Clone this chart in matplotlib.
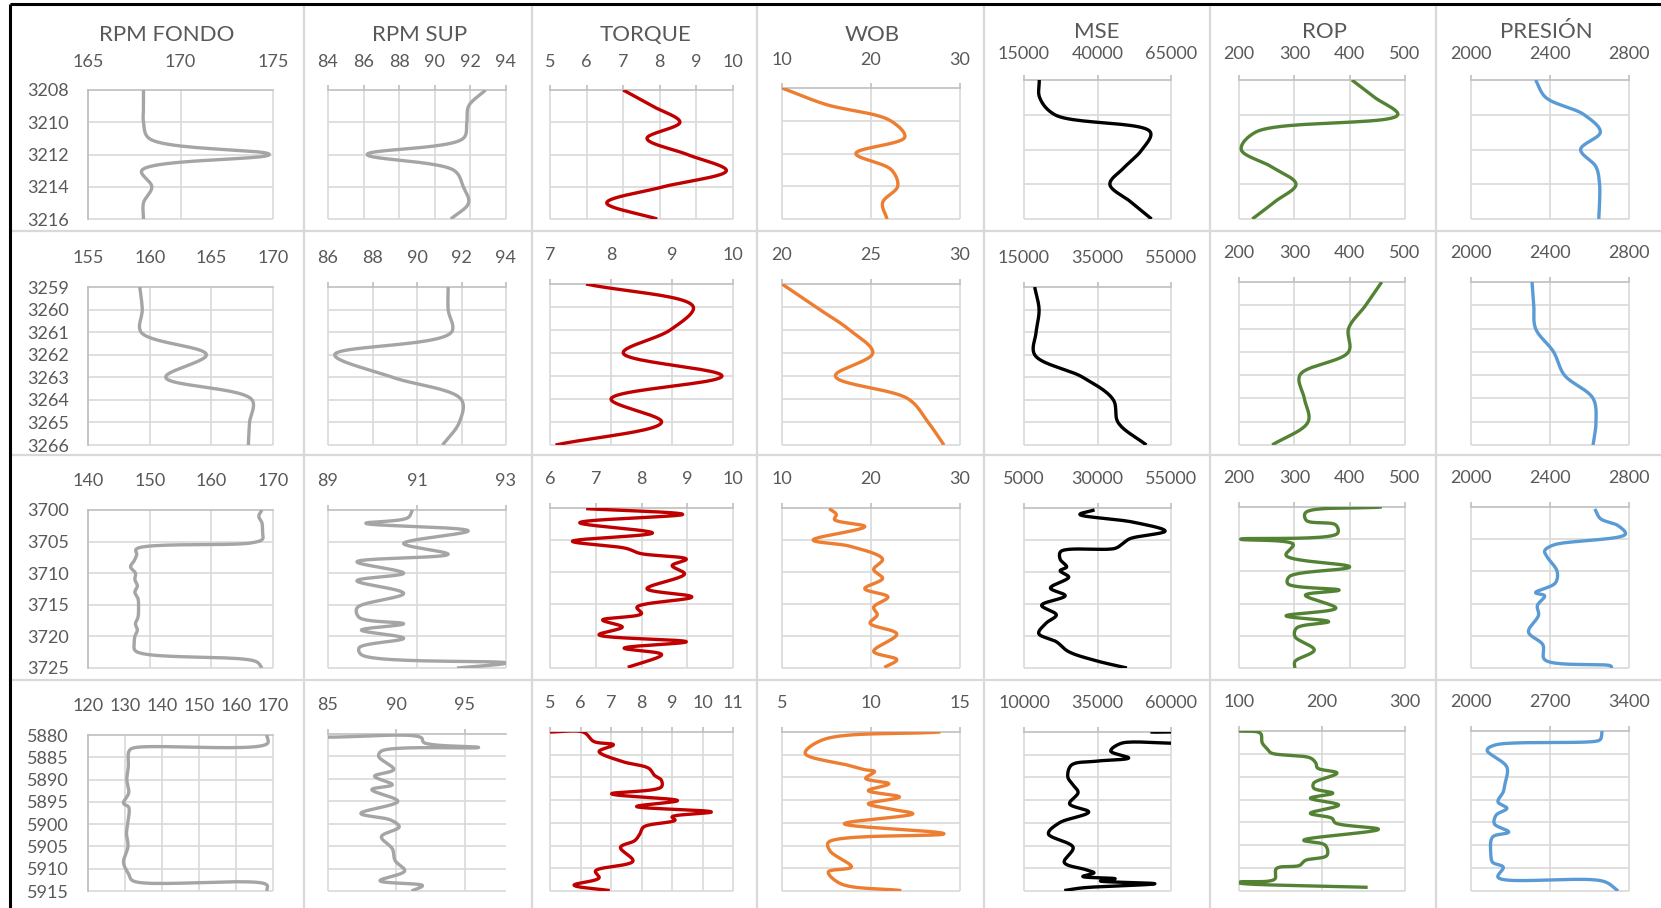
import numpy as np
import matplotlib
matplotlib.use("Agg")
import matplotlib.pyplot as plt
from matplotlib.lines import Line2D

W, H, DPI = 1661, 908, 100
plt.rcParams['font.family'] = ['Lato', 'DejaVu Sans']

TEXT = '#595959'
GRID = '#d9d9d9'
AXIS = '#bfbfbf'

# ---------------------------------------------------------------- data
TITLES = ["RPM FONDO", "RPM SUP", "TORQUE", "WOB", "MSE", "ROP", "PRESIÓN"]
COLORS = ['#a5a5a5', '#a5a5a5', '#c00000', '#ed7d31', '#000000', '#548235', '#5b9bd5']

# interval 3208-3216 m
MD_1 = [3208, 3209, 3210, 3211, 3212, 3213, 3214, 3215, 3216]
RPM_FONDO_1 = [168.0, 168.0, 168.0, 168.3, 174.8, 167.9, 168.45, 168.0, 168.0]
RPM_SUP_1 = [92.85, 91.9, 91.8, 91.6, 86.2, 91.1, 91.6, 91.9, 90.9]
TORQUE_1 = [7.0, 7.8, 8.55, 7.65, 8.75, 9.82, 8.1, 6.55, 7.93]
WOB_1 = [10.0, 14.9, 22.2, 23.8, 18.3, 22.3, 23.0, 21.3, 21.8]
MSE_1 = [20200, 20300, 25500, 58000, 55200, 49300, 44200, 51200, 58400]
ROP_1 = [404, 445, 487, 230, 204, 259, 303, 265, 224]
PRESION_1 = [2327, 2378, 2573, 2655, 2555, 2633, 2651, 2651, 2647]

# interval 3259-3266 m
MD_2 = [3259, 3260, 3261, 3262, 3263, 3264, 3265, 3266]
RPM_FONDO_2 = [159.2, 159.4, 159.3, 164.6, 161.3, 168.3, 168.1, 168.0]
RPM_SUP_2 = [91.4, 91.4, 91.55, 86.3, 88.9, 92.0, 91.9, 91.15]
TORQUE_2 = [7.59, 9.35, 8.97, 8.2, 9.82, 8.0, 8.83, 7.09]
WOB_2 = [20.0, 21.9, 23.8, 25.1, 23.0, 27.1, 28.2, 29.1]
MSE_2 = [17900, 19100, 18300, 17900, 31000, 39300, 40600, 48300]
ROP_2 = [458, 429, 398, 398, 310, 318, 325, 260]
PRESION_2 = [2309, 2318, 2327, 2418, 2473, 2618, 2633, 2618]

# interval 3700-3725 m
RPM_FONDO_3_MD = [3700, 3701, 3702, 3703.5, 3704.6, 3705.2, 3706.2, 3707, 3708, 3709, 3710,
                  3711, 3712, 3713, 3714, 3715.5, 3717, 3718, 3719, 3720, 3721, 3722.3,
                  3724.0, 3725]
RPM_FONDO_3 = [168.2, 167.7, 168.2, 168.3, 168.3, 166.5, 147.8, 147.9, 147.5, 146.9, 147.7,
               147.6, 148.0, 147.6, 148.1, 148.2, 148.1, 147.7, 148.0, 147.6, 147.5, 147.7,
               167.3, 168.2]
RPM_SUP_3_MD = [3700, 3701.2, 3702.1, 3703.3, 3705.3, 3707, 3708.2, 3710, 3711.2, 3713.2,
                3715.5, 3717, 3718, 3719, 3720.3, 3721.8, 3722.9, 3724.2, 3725]
RPM_SUP_3 = [90.9, 90.8, 89.85, 92.15, 90.7, 91.7, 89.65, 90.7, 89.65, 90.7,
             89.65, 89.7, 90.7, 89.75, 90.7, 89.7, 89.75, 93.0, 91.9]
TORQUE_3_MD = [3700.1, 3701.0, 3702.3, 3703.9, 3705.2, 3706.3, 3707.1, 3708.0, 3709.0, 3710.3,
               3712.6, 3713.9, 3715.5, 3716.5, 3717.5, 3718.6, 3719.8, 3720.9, 3721.9, 3722.9,
               3724.9]
TORQUE_3 = [6.79, 8.9, 6.65, 8.24, 6.49, 7.66, 7.97, 8.98, 8.67, 8.94,
            8.12, 9.1, 7.9, 8.0, 7.15, 7.58, 7.07, 8.98, 7.62, 8.44,
            7.7]
WOB_3_MD = [3700.1, 3701.0, 3701.8, 3702.9, 3705.0, 3706.0, 3708.0, 3709.6, 3711.0, 3712.6,
            3713.9, 3715.5, 3716.7, 3718.0, 3719.7, 3722.4, 3723.7, 3724.9]
WOB_3 = [15.3, 16.1, 15.9, 19.3, 13.5, 17.7, 21.3, 20.3, 21.3, 19.3,
         21.9, 20.3, 20.7, 19.9, 22.9, 20.3, 22.9, 21.5]
MSE_3_MD = [3700.3, 3701.0, 3702.2, 3703.6, 3704.8, 3705.6, 3706.3, 3706.8, 3708.0, 3709.2,
            3709.8, 3710.8, 3712.5, 3713.7, 3715.2, 3716.7, 3718.0, 3719.6, 3720.9, 3722.4,
            3723.8, 3725.0]
MSE_3 = [29000, 24000, 42000, 53000, 41000, 38500, 36000, 17500, 17300, 19500,
         17300, 20200, 14000, 19000, 11000, 16000, 12500, 10000, 16000, 20000,
         29000, 40000]
ROP_3_MD = [3700.0, 3700.9, 3702.1, 3702.8, 3704.1, 3705.0, 3705.8, 3707.5, 3709.3, 3710.8,
            3711.9, 3712.9, 3713.7, 3715.7, 3716.9, 3717.8, 3718.8, 3720.1, 3722.2, 3724.0,
            3725.0]
ROP_3 = [458, 320, 322, 375, 378, 203, 298, 285, 400, 291,
         288, 381, 320, 375, 285, 362, 304, 301, 336, 301,
         301]
PRESION_3_MD = [3700.3, 3701.8, 3702.9, 3704.2, 3705.9, 3706.8, 3707.6, 3710.0, 3711.8, 3713.3,
                3713.8, 3715.3, 3716.8, 3719.4, 3721.4, 3723.7, 3724.7, 3725.0]
PRESION_3 = [2627, 2655, 2745, 2782, 2418, 2373, 2382, 2436, 2427, 2327,
             2373, 2336, 2342, 2291, 2364, 2373, 2709, 2712]

# interval 5880-5915 m
RPM_FONDO_4_MD = [5880, 5881.9, 5883.0, 5883.8, 5887, 5890, 5893, 5895.3, 5896.2, 5900,
                  5902, 5905, 5908.6, 5911.2, 5912.7, 5913.6, 5915]
RPM_FONDO_4 = [168.3, 168.5, 131.9, 131.0, 130.9, 130.5, 131.0, 129.6, 131.0, 130.7,
               130.4, 130.8, 129.6, 131.0, 132.1, 168.3, 168.3]
RPM_SUP_4_MD = [5880.7, 5880.8, 5881.9, 5883.0, 5883.8, 5885, 5887.9, 5889.4, 5891.3, 5892.4,
                5895.0, 5897.7, 5899.2, 5900.7, 5902.9, 5905.6, 5908.2, 5910.5, 5912.7, 5913.8,
                5915.0]
RPM_SUP_4 = [85.0, 91.8, 92.0, 96.0, 88.9, 88.7, 89.8, 88.4, 89.7, 88.2,
             90.1, 87.4, 89.6, 90.2, 88.9, 89.7, 89.9, 90.6, 88.8, 91.9,
             91.1]
TORQUE_4_MD = [5880.0, 5880.05, 5882.1, 5882.8, 5884.3, 5886.5, 5888.0, 5889.5, 5890.6, 5892.1,
               5893.6, 5895.1, 5896.4, 5897.6, 5898.7, 5899.4, 5900.9, 5902.4, 5903.9, 5905.4,
               5908.4, 5910.6, 5912.1, 5913.7, 5914.9]
TORQUE_4 = [5.0, 6.1, 6.44, 7.08, 6.61, 7.37, 8.24, 8.42, 8.65, 8.65,
            7.02, 9.18, 7.84, 10.29, 9.0, 9.1, 8.07, 7.95, 7.78, 7.31,
            7.72, 6.49, 6.61, 5.79, 6.96]
WOB_4_MD = [5880.0, 5881.7, 5884.7, 5887.3, 5888.3, 5888.7, 5890.2, 5891.4, 5892.9, 5894.3,
            5895.8, 5896.9, 5898.0, 5900.2, 5902.4, 5904.3, 5906.2, 5909.7, 5910.8, 5913.4,
            5914.9]
WOB_4 = [13.9, 7.3, 6.3, 8.7, 9.65, 10.2, 9.7, 11.0, 9.85, 11.6,
         9.85, 11.0, 12.35, 8.5, 14.1, 7.6, 7.7, 8.9, 7.6, 8.3,
         11.7]
MSE_4_MD = [5880.0, 5880.5, 5882.0, 5882.5, 5884.2, 5885.7, 5886.4, 5887.3, 5889.9, 5891.5,
            5893.3, 5895.8, 5897.6, 5900.0, 5902.4, 5905.4, 5908.7, 5910.3, 5911.0, 5911.8,
            5912.3, 5912.8, 5913.4, 5914.3, 5914.9]
MSE_4 = [53000, 66000, 66000, 43000, 39500, 45600, 35000, 26100, 24900, 26500,
         28400, 25500, 32000, 22000, 18300, 26700, 23700, 31000, 33800, 30000,
         41000, 36000, 54500, 30000, 23700]
ROP_4_MD = [5880.0, 5880.5, 5882.6, 5884.0, 5884.8, 5885.9, 5887.0, 5888.1, 5889.2, 5891.4,
            5892.5, 5893.6, 5894.7, 5896.2, 5898.0, 5899.1, 5900.1, 5901.5, 5903.9, 5905.0,
            5907.2, 5908.3, 5909.4, 5910.1, 5912.4, 5913.0, 5913.2, 5914.2]
ROP_4 = [100, 125.8, 128, 134.4, 138.7, 186, 192.5, 194.6, 218, 190,
         190, 213, 186, 220, 186, 212, 216, 268, 178, 204,
         206, 180, 173, 145, 143, 102, 100, 255]
PRESION_4_MD = [5880.0, 5881.6, 5882.1, 5883.1, 5884.2, 5887.9, 5891.5, 5893.3, 5895.5, 5896.9,
                5898.4, 5900.3, 5902.1, 5903.2, 5906.8, 5908.7, 5909.8, 5912.0, 5912.9, 5915.0]
PRESION_4 = [3161, 3152, 3130, 2207, 2143, 2318, 2302, 2286, 2239, 2318,
             2223, 2207, 2334, 2191, 2175, 2191, 2286, 2239, 3177, 3304]

# axis ranges and ticks per interval
DEPTH_LIM = [(3208, 3216), (3259, 3266), (3700, 3725), (5880, 5915)]
DEPTH_TICKS = [list(range(3208, 3217, 2)), list(range(3259, 3267)),
               list(range(3700, 3726, 5)), list(range(5880, 5916, 5))]
XLIM = [
    [(165, 175), (84, 94), (5, 10), (10, 30), (15000, 65000), (200, 500), (2000, 2800)],
    [(155, 170), (86, 94), (7, 10), (20, 30), (15000, 55000), (200, 500), (2000, 2800)],
    [(140, 170), (89, 93), (6, 10), (10, 30), (5000, 55000), (200, 500), (2000, 2800)],
    [(120, 170), (85, 98), (5, 11), (5, 15), (10000, 60000), (100, 300), (2000, 3400)],
]
XTICKS = [
    [[165, 170, 175], [84, 86, 88, 90, 92, 94], [5, 6, 7, 8, 9, 10], [10, 20, 30],
     [15000, 40000, 65000], [200, 300, 400, 500], [2000, 2400, 2800]],
    [[155, 160, 165, 170], [86, 88, 90, 92, 94], [7, 8, 9, 10], [20, 25, 30],
     [15000, 35000, 55000], [200, 300, 400, 500], [2000, 2400, 2800]],
    [[140, 150, 160, 170], [89, 91, 93], [6, 7, 8, 9, 10], [10, 20, 30],
     [5000, 30000, 55000], [200, 300, 400, 500], [2000, 2400, 2800]],
    [[120, 130, 140, 150, 160, 170], [85, 90, 95], [5, 6, 7, 8, 9, 10, 11], [5, 10, 15],
     [10000, 35000, 60000], [100, 200, 300], [2000, 2700, 3400]],
]

SERIES = [
    [(MD_1, RPM_FONDO_1), (MD_1, RPM_SUP_1), (MD_1, TORQUE_1), (MD_1, WOB_1),
     (MD_1, MSE_1), (MD_1, ROP_1), (MD_1, PRESION_1)],
    [(MD_2, RPM_FONDO_2), (MD_2, RPM_SUP_2), (MD_2, TORQUE_2), (MD_2, WOB_2),
     (MD_2, MSE_2), (MD_2, ROP_2), (MD_2, PRESION_2)],
    [(RPM_FONDO_3_MD, RPM_FONDO_3), (RPM_SUP_3_MD, RPM_SUP_3), (TORQUE_3_MD, TORQUE_3),
     (WOB_3_MD, WOB_3), (MSE_3_MD, MSE_3), (ROP_3_MD, ROP_3), (PRESION_3_MD, PRESION_3)],
    [(RPM_FONDO_4_MD, RPM_FONDO_4), (RPM_SUP_4_MD, RPM_SUP_4), (TORQUE_4_MD, TORQUE_4),
     (WOB_4_MD, WOB_4), (MSE_4_MD, MSE_4), (ROP_4_MD, ROP_4), (PRESION_4_MD, PRESION_4)],
]

# ---------------------------------------------------------------- layout (pixels)
COL_X = [(88, 273), (328, 506), (550, 733), (782, 960), (1024, 1171), (1239, 1405), (1471, 1629)]
ROW_TOP = [[90, 90, 90, 88, 80, 80, 80],
           [287, 287, 284, 284, 287, 282, 282],
           [510, 510, 508, 508, 508, 507, 507],
           [735, 734, 732, 732, 732, 731, 731]]
ROW_BOT = [219, 445, 668, 891]
TITLE_X = [167, 420, 645, 872, 1097, 1324, 1546]
TITLE_Y = [35, 35, 35, 35, 32, 32, 32]
CELL_VX = [304, 532, 757, 984, 1210, 1436]
CELL_HY = [231, 455, 680]
PX = 72.0 / DPI  # points per pixel


def smooth(depth, vals, sx, sy, n=24, alpha=0.5):
    """Centripetal Catmull-Rom curve through the samples, computed in pixel space."""
    P = np.column_stack([np.asarray(vals, float) * sx, np.asarray(depth, float) * sy])
    if len(P) < 3:
        return np.asarray(vals, float), np.asarray(depth, float)
    P = np.vstack([2 * P[0] - P[1], P, 2 * P[-1] - P[-2]])
    out = [P[1][None, :]]
    for i in range(1, len(P) - 2):
        p0, p1, p2, p3 = P[i - 1], P[i], P[i + 1], P[i + 2]

        def step(a, b):
            return max(np.hypot(*(b - a)), 1e-6) ** alpha

        t0 = 0.0
        t1 = t0 + step(p0, p1)
        t2 = t1 + step(p1, p2)
        t3 = t2 + step(p2, p3)
        t = np.linspace(t1, t2, n)[1:, None]
        a1 = (t1 - t) / (t1 - t0) * p0 + (t - t0) / (t1 - t0) * p1
        a2 = (t2 - t) / (t2 - t1) * p1 + (t - t1) / (t2 - t1) * p2
        a3 = (t3 - t) / (t3 - t2) * p2 + (t - t2) / (t3 - t2) * p3
        b1 = (t2 - t) / (t2 - t0) * a1 + (t - t0) / (t2 - t0) * a2
        b2 = (t3 - t) / (t3 - t1) * a2 + (t - t1) / (t3 - t1) * a3
        c = (t2 - t) / (t2 - t1) * b1 + (t - t1) / (t2 - t1) * b2
        out.append(c)
    out = np.vstack(out)
    return out[:, 0] / sx, out[:, 1] / sy


fig = plt.figure(figsize=(W / DPI, H / DPI), dpi=DPI, facecolor='white')


def fig_line(x0, y0, x1, y1, color, lw):
    fig.add_artist(Line2D([x0 / W, x1 / W], [1 - y0 / H, 1 - y1 / H],
                          transform=fig.transFigure, color=color, lw=lw,
                          solid_capstyle='butt'))


# cell separators and outer frame
for x in CELL_VX:
    fig_line(x, 4, x, H, GRID, 1.6)
for y in CELL_HY:
    fig_line(10, y, W, y, GRID, 1.6)
fig_line(10, 4, W, 4, '#000000', 2.2)
fig_line(10, 4, 10, H, '#000000', 2.2)

for r in range(4):
    d0, d1 = DEPTH_LIM[r]
    for c in range(7):
        left, right = COL_X[c]
        top, bot = ROW_TOP[r][c], ROW_BOT[r]
        ax = fig.add_axes([left / W, 1 - bot / H, (right - left) / W, (bot - top) / H])
        ax.set_facecolor('none')
        x0, x1 = XLIM[r][c]
        ax.set_xlim(x0, x1)
        ax.set_ylim(d1, d0)

        # gridlines
        ax.vlines(XTICKS[r][c], d0, d1, colors=GRID, lw=1.2, zorder=0.5, clip_on=False)
        ax.hlines(DEPTH_TICKS[r][1:], x0, x1, colors=GRID, lw=1.2, zorder=0.5, clip_on=False)

        # curve
        md, vals = SERIES[r][c]
        sx = (right - left) / (x1 - x0)
        sy = (bot - top) / (d1 - d0)
        xs, ys = smooth(md, vals, sx, sy)
        ax.plot(xs, ys, color=COLORS[c], lw=2.4, solid_capstyle='butt',
                solid_joinstyle='round', zorder=3)

        # spines
        for s in ('bottom', 'right'):
            ax.spines[s].set_visible(False)
        ax.spines['top'].set_color(AXIS)
        ax.spines['top'].set_linewidth(1.2)
        if c == 0:
            ax.spines['left'].set_color(AXIS)
            ax.spines['left'].set_linewidth(1.2)
        else:
            ax.spines['left'].set_visible(False)

        # value axis on top
        ax.xaxis.tick_top()
        ax.set_xticks(XTICKS[r][c])
        ax.set_xticklabels([str(v) for v in XTICKS[r][c]])
        lab_off = 31 if r > 0 else (30 if c < 4 else 28)
        total = (lab_off - 10) * PX
        if c == 0:
            ax.tick_params(axis='x', length=0, pad=total, labelsize=13, labelcolor=TEXT)
        else:
            tl = 5 * PX
            ax.tick_params(axis='x', length=tl, width=1.2, color=AXIS, pad=total - tl,
                           labelsize=13, labelcolor=TEXT)

        # depth axis only in the first column
        if c == 0:
            ax.set_yticks(DEPTH_TICKS[r])
            ax.set_yticklabels([str(v) for v in DEPTH_TICKS[r]])
            ax.tick_params(axis='y', length=0, pad=19 * PX, labelsize=13, labelcolor=TEXT)
        else:
            ax.set_yticks([])

        if r == 0:
            fig.text(TITLE_X[c] / W, 1 - TITLE_Y[c] / H, TITLES[c], ha='center', va='center',
                     fontsize=16, color=TEXT)

fig.savefig('out.png', dpi=DPI, facecolor='white')
